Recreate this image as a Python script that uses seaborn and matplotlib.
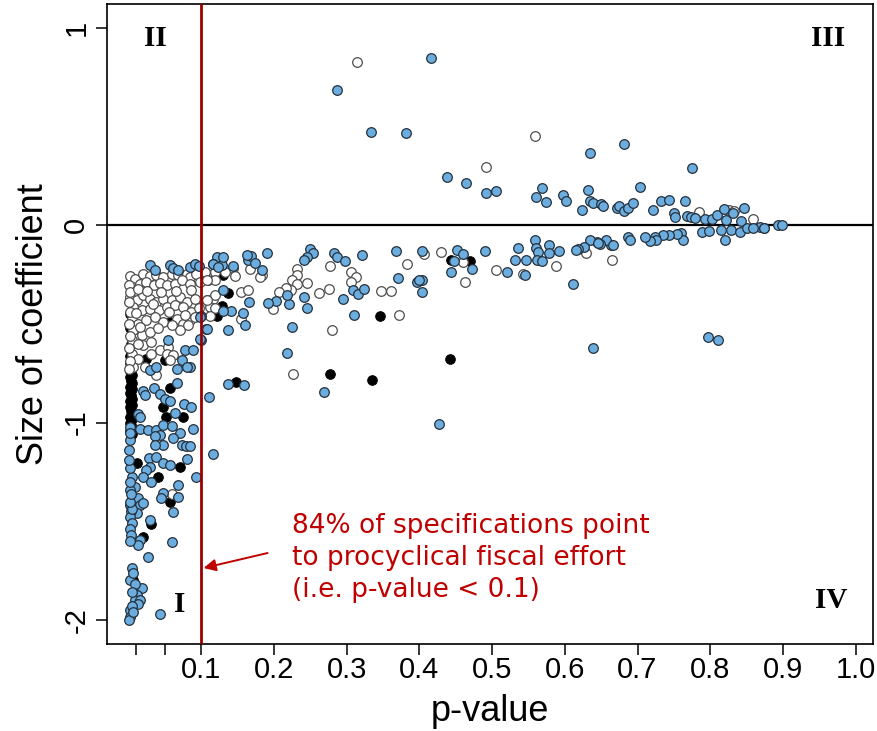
import matplotlib
matplotlib.use("Agg")
import matplotlib.pyplot as plt
import seaborn as sns

sns.set_theme(style="ticks")
plt.rcParams['font.family'] = ['Liberation Sans', 'DejaVu Sans']

# ---------------- data (p-value, coefficient) ----------------
white_p = [0.002, 0.008, 0.020, 0.029, 0.038, 0.047, 0.059, 0.068, 0.080, 0.084, 0.093, 0.107, 0.114,
           0.006, 0.015, 0.024, 0.034, 0.043, 0.052, 0.063, 0.073, 0.084, 0.098, 0.109,
           0.002, 0.011, 0.020, 0.029, 0.038, 0.047, 0.059, 0.070, 0.080, 0.091, 0.107, 0.116,
           0.006, 0.018, 0.029, 0.041, 0.052, 0.063, 0.075, 0.086, 0.112,
           0.004, 0.013, 0.024, 0.036, 0.047, 0.066, 0.075, 0.084, 0.091,
           0.006, 0.018, 0.029, 0.070, 0.082, 0.004, 0.020, 0.031, 0.043, 0.054,
           0.004, 0.013, 0.052, 0.061, 0.057, 0.006, 0.038, 0.059,
           0.000, 0.001, 0.000, 0.001, 0.000, 0.001, 0.000, 0.001, 0.000,
           0.012, 0.025, 0.045, 0.065, 0.085, 0.010, 0.033, 0.055, 0.077, 0.096, 0.016, 0.040, 0.060,
           0.012, 0.030, 0.022,
           0.105, 0.118, 0.119, 0.107, 0.144, 0.146, 0.132, 0.155, 0.164, 0.118, 0.107, 0.118, 0.112,
           0.155, 0.183, 0.180, 0.167,
           0.232, 0.231, 0.224, 0.231, 0.245, 0.223, 0.217, 0.206, 0.198, 0.262, 0.275, 0.306, 0.312,
           0.306, 0.347, 0.361, 0.372, 0.279, 0.226, 0.277, 0.383, 0.406, 0.430,
           0.460, 0.463, 0.505, 0.543, 0.588, 0.629, 0.665,
           0.314, 0.559, 0.492, 0.784, 0.826, 0.833, 0.859]
white_c = [-0.258, -0.270, -0.245, -0.258, -0.250, -0.262, -0.245, -0.253, -0.245, -0.262, -0.245, -0.245, -0.262,
           -0.312, -0.295, -0.287, -0.304, -0.292, -0.304, -0.295, -0.279, -0.295, -0.287, -0.279,
           -0.363, -0.380, -0.354, -0.371, -0.388, -0.371, -0.380, -0.363, -0.388, -0.371, -0.380, -0.371,
           -0.413, -0.430, -0.422, -0.430, -0.413, -0.405, -0.413, -0.439, -0.413,
           -0.473, -0.498, -0.481, -0.464, -0.489, -0.473, -0.498, -0.481, -0.464,
           -0.532, -0.557, -0.540, -0.532, -0.506, -0.582, -0.608, -0.591, -0.633, -0.616,
           -0.650, -0.675, -0.650, -0.658, -0.684, -0.717, -0.760, -1.360,
           -0.300, -0.340, -0.390, -0.440, -0.500, -0.560, -0.620, -0.690, -0.730,
           -0.325, -0.335, -0.340, -0.335, -0.330, -0.445, -0.400, -0.440, -0.455, -0.420, -0.515, -0.520, -0.505,
           -0.600, -0.650, -0.720,
           -0.236, -0.236, -0.275, -0.278, -0.214, -0.257, -0.236, -0.338, -0.326, -0.354, -0.380, -0.417, -0.461,
           -0.473, -0.253, -0.262, -0.219,
           -0.219, -0.253, -0.275, -0.295, -0.290, -0.329, -0.316, -0.338, -0.425, -0.343, -0.324, -0.236, -0.262,
           -0.287, -0.334, -0.334, -0.457, -0.530, -0.754, -0.208, -0.197, -0.143, -0.135,
           -0.186, -0.287, -0.224, -0.245, -0.208, -0.140, -0.177,
           0.830, 0.452, 0.294, 0.067, 0.076, 0.072, 0.030]

black_p = [0.002, 0.004, 0.001, 0.003, 0.005, 0.002, 0.004, 0.001, 0.003, 0.005, 0.002, 0.004, 0.001,
           0.003, 0.005, 0.002, 0.004, 0.001, 0.003, 0.005, 0.002, 0.004,
           0.002, 0.001, 0.003, 0.002, 0.001,
           0.057, 0.047, 0.051, 0.074, 0.011, 0.070, 0.040, 0.057, 0.031, 0.020, 0.006,
           0.130, 0.137, 0.128, 0.122, 0.148, 0.277, 0.335, 0.345, 0.442, 0.444, 0.470,
           0.057, 0.024, 0.050]
black_c = [-0.740, -0.760, -0.770, -0.790, -0.800, -0.820, -0.830, -0.850, -0.860, -0.880, -0.890, -0.910, -0.920,
           -0.940, -0.950, -0.970, -0.980, -1.000, -1.010, -1.030, -1.040, -1.060,
           -0.450, -0.520, -0.600, -0.660, -0.700,
           -0.827, -0.923, -0.970, -0.970, -1.207, -1.224, -1.278, -1.401, -1.514, -1.578, -1.797,
           -0.253, -0.343, -0.410, -0.461, -0.793, -0.754, -0.783, -0.459, -0.675, -0.174, -0.182,
           -0.489, -0.675, -0.684]

blue_p = [0.4165, 0.286, 0.333, 0.382, 0.438, 0.464, 0.491, 0.505, 0.568, 0.560, 0.574, 0.597, 0.602,
          0.635, 0.681, 0.775, 0.632, 0.703, 0.635, 0.639, 0.650, 0.652, 0.624, 0.672, 0.675, 0.681,
          0.687, 0.694, 0.721, 0.732, 0.744, 0.765, 0.750, 0.752, 0.768, 0.774, 0.779, 0.793, 0.803,
          0.810, 0.819, 0.822, 0.831, 0.846, 0.843, 0.868, 0.874, 0.893, 0.899,
          0.789, 0.799, 0.815, 0.821, 0.829, 0.841, 0.850, 0.859, 0.874, 0.760, 0.763, 0.754, 0.744,
          0.735, 0.724, 0.726, 0.717, 0.710, 0.687, 0.689, 0.664, 0.657, 0.648, 0.644, 0.634, 0.627,
          0.618, 0.616, 0.646, 0.666, 0.611,
          0.451, 0.460, 0.472, 0.443, 0.490, 0.520, 0.535, 0.532, 0.546, 0.545, 0.559, 0.561, 0.563,
          0.562, 0.569, 0.578, 0.578, 0.592, 0.403, 0.403, 0.448,
          0.190, 0.249, 0.254, 0.245, 0.241, 0.283, 0.286, 0.297, 0.321, 0.367, 0.403, 0.309, 0.316,
          0.323, 0.295, 0.310, 0.370, 0.396, 0.399, 0.268, 0.218, 0.225, 0.241, 0.245, 0.221, 0.218,
          0.203, 0.191, 0.165, 0.137, 0.160, 0.157, 0.141, 0.130, 0.106, 0.100, 0.100, 0.137, 0.158,
          0.110, 0.121, 0.116, 0.128, 0.130, 0.144, 0.164, 0.168, 0.173, 0.183, 0.162, 0.130,
          0.427, 0.639, 0.797, 0.811, 0.116,
          0.029, 0.036, 0.057, 0.061, 0.068, 0.084, 0.091, 0.097, 0.116, 0.123, 0.098, 0.107, 0.098,
          0.077, 0.089, 0.054, 0.073, 0.084, 0.029, 0.038, 0.066, 0.080,
          0.066, 0.034, 0.020, 0.022, 0.043, 0.050, 0.057, 0.076, 0.085, 0.063, 0.013, 0.015, 0.002,
          0.015, 0.027, 0.038, 0.047, 0.059, 0.070, 0.089, 0.061, 0.043, 0.036, 0.073, 0.079, 0.084,
          0.047, 0.036, 0.080, 0.028, 0.038, 0.047, 0.029, 0.024, 0.057, 0.093, 0.068, 0.020, 0.031,
          0.008, 0.047, 0.068, 0.045, 0.013, 0.002, 0.004, 0.002, 0.000, 0.000, 0.002, 0.002,
          0.015, 0.020, 0.011, 0.029, 0.015, 0.013, 0.061, 0.059, 0.027, 0.004, 0.002, 0.018, 0.011,
          0.008, 0.015, 0.002, 0.002, 0.000, 0.043,
          0.002, 0.003, 0.002, 0.004, 0.002, 0.003, 0.001, 0.004, 0.001, 0.003, 0.001,
          0.006, 0.009, 0.004, 0.012, 0.005, 0.006]
blue_c = [0.849, 0.684, 0.472, 0.469, 0.245, 0.216, 0.162, 0.172, 0.189, 0.145, 0.118, 0.155, 0.125,
          0.368, 0.412, 0.290, 0.179, 0.194, 0.123, 0.113, 0.110, 0.100, 0.079, 0.090, 0.100, 0.071,
          0.090, 0.113, 0.079, 0.123, 0.130, 0.123, 0.062, 0.042, 0.049, 0.042, 0.039, 0.030, 0.030,
          0.051, 0.085, 0.029, 0.062, 0.086, 0.020, -0.009, -0.012, 0.004, 0.000,
          -0.034, -0.030, -0.025, -0.076, -0.022, -0.034, -0.014, -0.014, -0.014, -0.039, -0.072, -0.042, -0.051,
          -0.051, -0.059, -0.072, -0.079, -0.059, -0.059, -0.076, -0.101, -0.072, -0.093, -0.084, -0.076, -0.110,
          -0.118, -0.127, -0.088, -0.098, -0.295,
          -0.127, -0.143, -0.219, -0.236, -0.132, -0.235, -0.115, -0.177, -0.177, -0.250, -0.076, -0.115, -0.135,
          -0.174, -0.182, -0.101, -0.138, -0.132, -0.278, -0.338, -0.180,
          -0.138, -0.122, -0.140, -0.160, -0.177, -0.138, -0.160, -0.182, -0.152, -0.130, -0.130, -0.329, -0.346,
          -0.321, -0.371, -0.457, -0.267, -0.287, -0.278, -0.844, -0.647, -0.515, -0.363, -0.417, -0.397, -0.354,
          -0.383, -0.393, -0.388, -0.532, -0.503, -0.442, -0.434, -0.434, -0.527, -0.579, -0.461, -0.802, -0.807,
          -0.869, -0.160, -0.194, -0.203, -0.160, -0.208, -0.174, -0.157, -0.191, -0.228, -0.152, -0.326,
          -1.008, -0.623, -0.567, -0.582, -1.159,
          -0.203, -0.225, -0.203, -0.215, -0.225, -0.211, -0.198, -0.208, -0.194, -0.211, -0.464, -0.523, -0.578,
          -0.633, -0.630, -0.582, -0.684, -0.717, -0.734, -0.717, -0.726, -0.717,
          -0.798, -0.822, -0.839, -0.861, -0.856, -0.878, -0.890, -0.908, -0.920, -0.950, -0.954, -0.970, -1.021,
          -1.030, -1.038, -1.038, -1.013, -1.018, -1.052, -1.030, -1.080, -1.063, -1.068, -1.114, -1.119, -1.119,
          -1.114, -1.114, -1.186, -1.181, -1.173, -1.203, -1.224, -1.240, -1.215, -1.274, -1.316, -1.274, -1.300,
          -1.325, -1.359, -1.376, -1.384, -1.384, -1.342, -1.274, -1.232, -1.190, -1.139, -1.089, -1.055,
          -1.418, -1.409, -1.460, -1.494, -1.595, -1.620, -1.452, -1.604, -1.680, -1.738, -1.797, -1.840, -1.873,
          -1.899, -1.899, -1.949, -1.983, -2.000, -1.970,
          -1.420, -1.450, -1.480, -1.510, -1.540, -1.570, -1.600, -1.440, -1.400, -1.360, -1.300,
          -1.760, -1.820, -1.860, -1.920, -1.930, -1.960]

x_ticks = [0.01, 0.05, 0.1, 0.2, 0.3, 0.4, 0.5, 0.6, 0.7, 0.8, 0.9, 1.0]
x_tick_labels = ['', '', '0.1', '0.2', '0.3', '0.4', '0.5', '0.6', '0.7', '0.8', '0.9', '1.0']
y_ticks = [-2, -1, 0, 1]
y_tick_labels = ['-2', '-1', '0', '1']

# ---------------- figure ----------------
fig = plt.figure(figsize=(8.77, 7.31), dpi=100)
ax = fig.add_axes([0.122, 0.1196, 0.8734, 0.8744])

S = 48
sns.scatterplot(x=black_p, y=black_c, color='black', edgecolor='black', s=S, linewidth=0.7,
                ax=ax, zorder=3, legend=False)
sns.scatterplot(x=white_p, y=white_c, color='white', edgecolor='#4d4d4d', s=S, linewidth=0.9,
                ax=ax, zorder=3, legend=False)
sns.scatterplot(x=blue_p, y=blue_c, color='#6cade0', edgecolor='#24313c', s=S, linewidth=0.9,
                ax=ax, zorder=3, legend=False)

ax.axhline(0, color='black', lw=1.6, zorder=2)
ax.axvline(0.1, color='#9b0000', lw=2.0, zorder=4)

ax.set_xlim(-0.030, 1.024)
ax.set_ylim(-2.12, 1.12)

ax.set_xticks(x_ticks)
ax.set_xticklabels(x_tick_labels)
ax.set_yticks(y_ticks)
ax.set_yticklabels(y_tick_labels, rotation=90, va='center')
ax.tick_params(axis='both', direction='out', length=8, width=1.1, color='black',
               labelsize=21, labelcolor='black')
ax.tick_params(axis='x', pad=1)
ax.tick_params(axis='y', pad=4)
for sp in ax.spines.values():
    sp.set_visible(True)
    sp.set_color('black')
    sp.set_linewidth(1.2)

ax.set_xlabel('p-value', fontsize=26, color='black')
ax.set_ylabel('Size of coefficient', fontsize=26, color='black')
ax.xaxis.label.set_va('baseline')
ax.xaxis.set_label_coords(0.5, -0.121)
ax.yaxis.label.set_va('baseline')
ax.yaxis.set_label_coords(-0.083, 0.5)

quad_font = dict(family=['Liberation Serif', 'DejaVu Serif'], fontweight='bold', fontsize=21,
                 color='black', ha='center', va='center')
ax.text(0.036, 0.947, 'II', **quad_font)
ax.text(0.962, 0.947, 'III', **quad_font)
ax.text(0.966, -1.904, 'IV', **quad_font)
ax.text(0.0705, -1.924, 'I', **quad_font)

ax.text(0.224, -1.458, '84% of specifications point\nto procyclical fiscal effort\n(i.e. p-value < 0.1)',
        family=['DejaVu Sans'], fontsize=19, color='#c00000', ha='left', va='top', linespacing=1.3)
ax.annotate('', xy=(0.103, -1.737), xytext=(0.191, -1.661),
            arrowprops=dict(arrowstyle='-|>', color='#c00000', lw=1.4, mutation_scale=18,
                            shrinkA=0, shrinkB=0))

fig.savefig('out.png', dpi=100)
